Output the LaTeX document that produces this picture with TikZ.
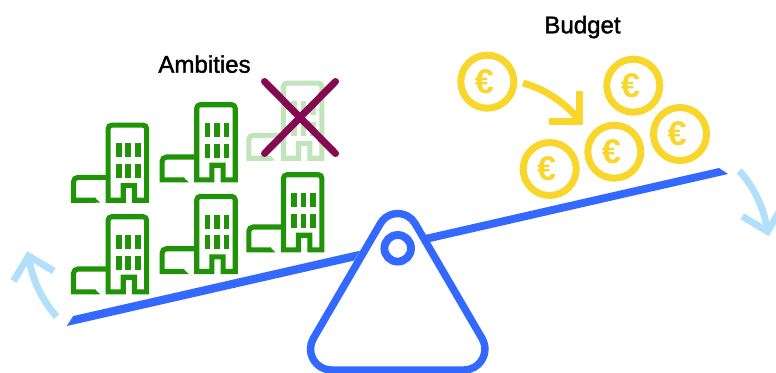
\documentclass[tikz,border=0pt]{standalone}
\usepackage{fontspec}
\setmainfont{Liberation Sans}
\newfontfamily\titlefont[FakeBold=1.5]{Liberation Sans}
\definecolor{beamblue}{HTML}{3469FF}
\definecolor{tiltblue}{HTML}{B2DFF9}
\definecolor{coinyellow}{HTML}{F9D62B}
\definecolor{buildgreen}{HTML}{209308}
\definecolor{faintgreen}{HTML}{C2E4BA}
\definecolor{crossred}{HTML}{860A52}
\tikzset{
    title/.style={font=\titlefont\fontsize{13.7}{16}\selectfont, text=black, inner sep=0pt, anchor=base},
    coin/.style={circle, draw=coinyellow, line width=3.97pt, minimum size=1.06cm, inner sep=0pt,
        text=coinyellow, font=\fontsize{19.5}{19.5}\selectfont\bfseries},
    tilt/.style={tiltblue, line width=3.97pt, miter limit=10},
    pics/building/.style={code={
        % tower with door, annex, windows
        \draw [line width=2.9pt] (17.5,77.5) -- (2.45,77.5) [rounded corners=2pt] -- (2.45,2.45) -- (40.9,2.45) [sharp corners] -- (40.9,77.5) -- (28.8,77.5) -- (28.8,62.9) -- (17.5,62.9) -- cycle;
        \draw [line width=2.9pt] (2.45,54.7) [rounded corners=2.5pt] -- (-32.2,54.7) [sharp corners] -- (-32.2,77.5) -- (-10,77.5);
        \fill (-11,75) -- (-5.5,80) -- (-11,80) -- cycle;
        \foreach \wx in {10.3,19.7,29.3} {
            \foreach \wy in {20.7,41.3} {
                \fill (\wx,\wy) rectangle ++(5.7,14);
            }
        }
    }}
}
\begin{document}
\begin{tikzpicture}[x=0.02cm,y=-0.02cm]
    \useasboundingbox (0,0) rectangle (776,372);
    \clip (0,0) rectangle (776,372);

    \node[title] (ambities) at (204.5,72.7) {Ambities};
    \node[title] (budget) at (582.5,33.3) {Budget};

    % buildings
    \foreach \x/\y in {105.7/122.7, 194.3/102.3, 105.7/214.3, 194.3/194, 281/172.3} {
        \pic[color=buildgreen] at (\x,\y) {building};
    }
    \pic[color=faintgreen] at (281,80.7) {building};
    \draw [crossred, line width=4pt, line cap=round] (264.5,81.5) -- (335.5,153.5);
    \draw [crossred, line width=4pt, line cap=round] (335.5,81.5) -- (264.5,153.5);

    % coins
    \foreach \i/\x/\y in {1/487.3/81.7, 2/633.3/85.7, 3/680/134, 4/614.3/151.7, 5/549.7/169} {
        \node[coin] (coin\i) at (\x,\y) {€\kern3.4pt};
    }
    \draw [coinyellow, line width=3.97pt] (523,83) .. controls (548,90) and (567,105) .. (579,120);
    \draw [coinyellow, line width=3.97pt] (549,121.5) -- (579.5,121.5) -- (579.5,91);

    % beam
    \fill [beamblue] (66.7,326) -- (73.3,316) -- (360,250.7) -- (354,260.6) -- cycle;
    \fill [beamblue] (425,235) -- (719,168) -- (728,174) -- (430,242) -- cycle;

    % pivot
    \draw [beamblue, line width=4.25pt] (380.4,223.5) arc[start angle=210, end angle=330, radius=20]
        -- (482.1,338.5) arc[start angle=330, end angle=450, radius=21]
        -- (331.5,370) arc[start angle=90, end angle=210, radius=21] -- cycle;
    \draw [beamblue, line width=4.5pt] (397.7,248.3) circle[radius=13.3];

    % tilt arrows
    \draw [tilt] (56.7,316.7) .. controls (42,300) and (32,280) .. (28.5,256);
    \draw [tilt] (13.5,281) -- (28.5,256) -- (53.7,271);
    \draw [tilt] (739.3,170.7) .. controls (754,187.4) and (764,207.4) .. (767.5,231.4);
    \draw [tilt] (782.5,206.4) -- (767.5,231.4) -- (742.3,216.4);
\end{tikzpicture}
\end{document}
